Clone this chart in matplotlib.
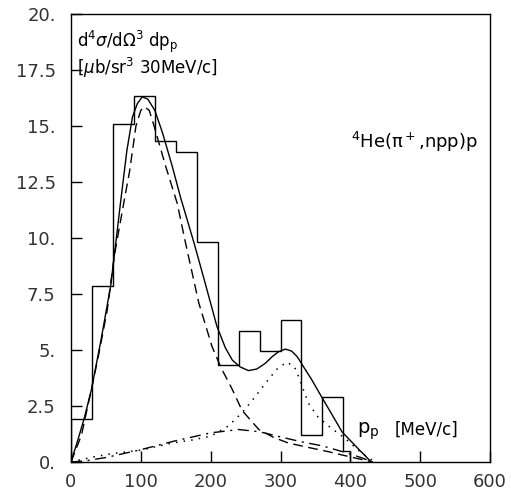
import numpy as np
import matplotlib
matplotlib.use("Agg")
import matplotlib.pyplot as plt

# histogram (30 MeV/c bins, last one narrow)
edges = [0, 30, 60, 90, 120, 150, 180, 210, 240, 270, 300, 330, 360, 390, 400]
counts = [1.92, 7.87, 15.08, 16.35, 14.33, 13.85, 9.81, 4.33, 5.85, 4.97, 6.34, 1.19, 2.89, 0.5]

# total (solid)
p_tot = [0, 10, 19, 29, 43, 57, 71, 80, 88, 95, 102, 110, 120, 131, 145, 157, 176, 192, 209,
         221, 231, 242, 254, 266, 278, 288, 297, 307, 316, 324, 332, 345, 359, 375, 388, 411, 430]
v_tot = [0, 1.0, 1.96, 3.2, 5.45, 7.9, 11.6, 13.9, 15.4, 16.0, 16.3, 16.2, 15.7, 14.7, 13.2,
         11.8, 9.8, 8.0, 6.05, 5.1, 4.55, 4.25, 4.08, 4.15, 4.4, 4.7, 4.92, 5.04, 4.95, 4.7,
         4.3, 3.66, 2.9, 2.05, 1.35, 0.6, 0]

# quasi-free component (dashed)
p_qf = [0, 15, 31, 40, 52, 62, 74, 84, 93, 100, 105, 112, 119, 135, 152, 164, 183, 202,
        215, 230, 245, 269, 290, 311, 340, 370, 390, 415, 432]
v_qf = [0, 1.2, 3.5, 4.85, 6.8, 9.2, 11.3, 13.0, 15.0, 15.7, 15.86, 15.7, 15.0, 13.26, 11.56,
        9.78, 7.1, 5.15, 4.2, 3.3, 2.3, 1.45, 1.1, 0.85, 0.65, 0.45, 0.3, 0.12, 0]

# second component (dotted)
p_dot = [0, 31, 60, 100, 145, 173, 200, 225, 245, 262, 278, 295, 309, 320, 326, 340, 354,
         373, 392, 416, 426, 435]
v_dot = [0, 0.22, 0.38, 0.53, 0.85, 0.98, 1.15, 1.6, 2.2, 2.85, 3.5, 4.15, 4.46, 4.25, 3.8,
         2.62, 2.0, 1.5, 1.07, 0.4, 0.2, 0]

# phase space (dash-dot)
p_ps = [0, 20, 50, 100, 150, 200, 240, 270, 300, 330, 360, 390, 415, 432]
v_ps = [0, 0.05, 0.2, 0.55, 0.95, 1.3, 1.45, 1.35, 1.12, 0.9, 0.72, 0.45, 0.2, 0]

xticks = [0, 100, 200, 300, 400, 500, 600]
yticks = [0, 2.5, 5, 7.5, 10, 12.5, 15, 17.5, 20]
ylabels = ["0.", "2.5", "5.", "7.5", "10.", "12.5", "15.", "17.5", "20."]

fig = plt.figure(figsize=(5.11, 4.92), dpi=100)
ax = fig.add_axes([71 / 511, 1 - 462 / 492, 419 / 511, 448 / 492])

ax.stairs(counts, edges, color="black", lw=1.0)
ax.plot(p_tot, v_tot, color="black", lw=1.0)
ax.plot(p_qf, v_qf, color="black", lw=1.0, dashes=(7, 4))
ax.plot(p_dot, v_dot, color="black", lw=1.1, dashes=(1, 4))
ax.plot(p_ps, v_ps, color="black", lw=1.0, dashes=(8, 4, 1.5, 4))

ax.set_xlim(0, 600)
ax.set_ylim(0, 20)
ax.set_xticks(xticks)
ax.set_yticks(yticks)
ax.set_yticklabels(ylabels)
ax.tick_params(direction="in", length=8, width=1, labelsize=13, colors="black",
               labelcolor="#333333")
ax.tick_params(axis="y", pad=11)
ax.tick_params(axis="x", pad=8)
for s in ax.spines.values():
    s.set_linewidth(1.0)

ax.text(0.015, 0.938, r"d$^4\sigma$/d$\Omega^3$ dp$_{\rm p}$", transform=ax.transAxes,
        fontsize=12, va="center", ha="left")
ax.text(0.015, 0.879, r"[$\mu$b/sr$^3$ 30MeV/c]", transform=ax.transAxes,
        fontsize=12, va="center", ha="left")
ax.text(0.668, 0.714, r"$^4$He(π$^+$,npp)p", transform=ax.transAxes,
        fontsize=13, va="center", ha="left")
ax.text(0.683, 0.068, r"p$_{\rm p}$", transform=ax.transAxes,
        fontsize=14, va="center", ha="left")
ax.text(0.772, 0.072, "[MeV/c]", transform=ax.transAxes,
        fontsize=12, va="center", ha="left")

fig.savefig("out.png", dpi=100)
